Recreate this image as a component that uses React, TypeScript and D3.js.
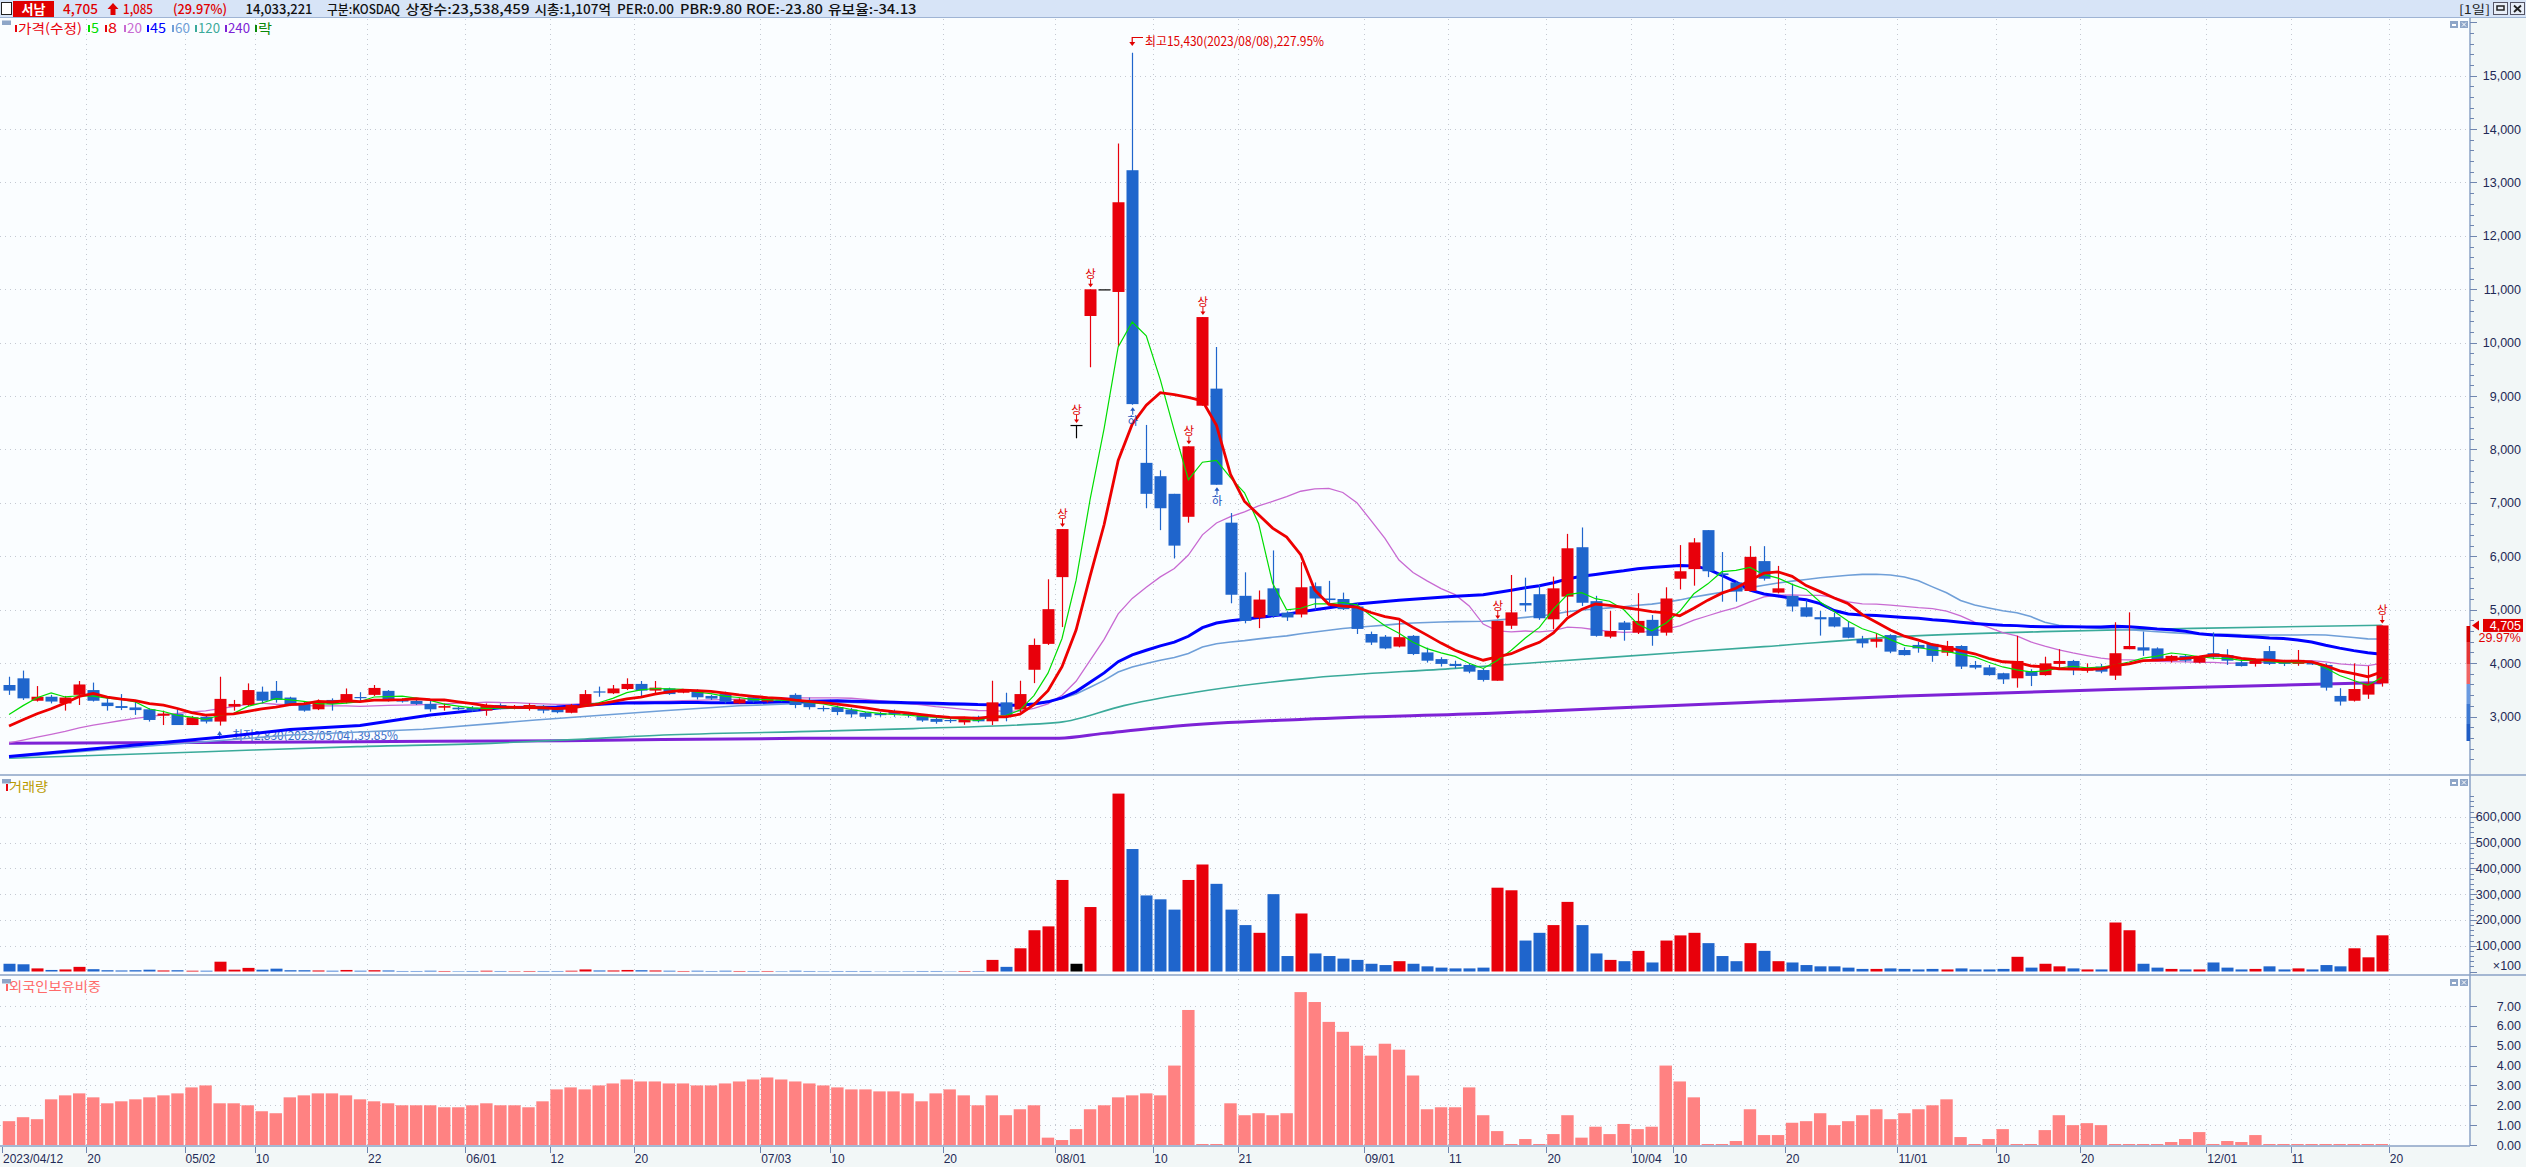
import React from 'react';
import * as d3 from 'd3';

// ---------------- DATA ----------------
const dateLabels: [number, string][] = [
  [0, '2023/04/12'], [6, '20'], [13, '05/02'], [18, '10'], [26, '22'], [33, '06/01'], [39, '12'], [45, '20'],
  [54, '07/03'], [59, '10'], [67, '20'], [75, '08/01'], [82, '10'], [88, '21'], [97, '09/01'], [103, '11'],
  [110, '20'], [116, '10/04'], [119, '10'], [127, '20'], [135, '11/01'], [142, '10'], [148, '20'],
  [157, '12/01'], [163, '11'], [170, '20'],
];

const opens = [
  3590, 3715, 3295, 3370, 3245, 3405, 3495, 3260, 3195, 3170,
  3135, 3015, 3045, 2840, 2995, 2905, 3185, 3215, 3465, 3480,
  3355, 3245, 3135, 3310, 3260, 3365, 3405, 3480, 3320, 3290,
  3235, 3165, 3165, 3165, 3110, 3215, 3165, 3155, 3170, 3155,
  3070, 3195, 3470, 3435, 3515, 3610, 3485, 3525, 3445, 3465,
  3385, 3420, 3245, 3360, 3280, 3320, 3405, 3265, 3160, 3175,
  3130, 3070, 3060, 3085, 3050, 3025, 2955, 2935, 2890, 2995,
  2910, 3265, 3130, 3875, 4360, 5610, 8460, 10500, 11000, 10950,
  13230, 7750, 7500, 7170, 6740, 8820, 9140, 6630, 5260, 4850,
  5400, 4945, 4910, 5440, 5210, 5200, 5060, 4545, 4495, 4310,
  4510, 4200, 4075, 3985, 3965, 3870, 3670, 4700, 5125, 5290,
  4820, 5245, 6170, 5160, 4495, 4760, 4570, 4810, 4570, 5580,
  5760, 6490, 5680, 5510, 5350, 5910, 5320, 5260, 5045, 4860,
  4860, 4670, 4450, 4400, 4525, 4245, 4340, 4360, 4195, 4320,
  3965, 3920, 3810, 3715, 3850, 3775, 3985, 4040, 3860, 3935,
  3765, 4260, 4295, 4275, 4045, 4135, 4010, 4185, 4150, 4015,
  3985, 4225, 4040, 3985, 4015, 3965, 3385, 3295, 3410, 3620,
];
const highs = [
  3745, 3860, 3570, 3405, 3385, 3665, 3635, 3360, 3420, 3280,
  3155, 3110, 3135, 3010, 3030, 3745, 3310, 3620, 3560, 3665,
  3370, 3280, 3320, 3340, 3525, 3455, 3590, 3495, 3340, 3310,
  3310, 3245, 3185, 3195, 3245, 3245, 3215, 3245, 3215, 3170,
  3235, 3495, 3560, 3590, 3715, 3665, 3665, 3540, 3495, 3510,
  3405, 3465, 3340, 3385, 3370, 3340, 3435, 3355, 3205, 3205,
  3160, 3085, 3085, 3130, 3085, 3040, 2980, 2970, 2995, 3015,
  3670, 3445, 3670, 4460, 5570, 6510, 8460, 11000, 11000, 13730,
  15430, 8460, 7610, 7170, 8060, 10480, 9920, 6810, 5700, 5360,
  6110, 4970, 5890, 5510, 5540, 5320, 5130, 4590, 4525, 4840,
  4525, 4290, 4110, 4045, 3995, 3900, 4790, 5650, 5600, 5465,
  5620, 6420, 6540, 5260, 4975, 4790, 5310, 4900, 5420, 6210,
  6340, 6490, 6080, 5530, 6190, 6190, 5820, 5490, 5180, 4975,
  4945, 4775, 4510, 4560, 4540, 4295, 4400, 4370, 4415, 4335,
  4040, 3965, 3820, 4510, 3885, 4120, 4260, 4060, 3995, 3985,
  4765, 4950, 4590, 4295, 4150, 4150, 4120, 4575, 4260, 4070,
  4085, 4320, 4060, 4245, 4025, 3995, 3530, 3995, 3945, 4705,
];
const lows = [
  3405, 3310, 3280, 3245, 3110, 3215, 3280, 3110, 3120, 3030,
  2905, 2840, 2845, 2840, 2870, 2830, 3110, 3195, 3245, 3260,
  3195, 3090, 3120, 3110, 3245, 3280, 3385, 3280, 3260, 3215,
  3090, 3110, 3120, 3090, 3015, 3135, 3135, 3110, 3060, 3060,
  3060, 3185, 3370, 3420, 3495, 3360, 3420, 3405, 3435, 3320,
  3310, 3245, 3235, 3260, 3260, 3280, 3155, 3130, 3095, 3025,
  2980, 2955, 2995, 2995, 2980, 2900, 2865, 2880, 2845, 2890,
  2840, 2910, 3085, 3625, 4340, 4675, 8210, 9540, 11000, 9940,
  8840, 6900, 6490, 5960, 6630, 8820, 7340, 5120, 4745, 4655,
  4850, 4790, 4855, 4995, 5120, 4995, 4545, 4340, 4260, 4295,
  4150, 4010, 3935, 3900, 3810, 3655, 3670, 4640, 4965, 4810,
  4635, 4880, 5070, 4495, 4465, 4420, 4545, 4325, 4515, 5380,
  5450, 5610, 5150, 5150, 5340, 5545, 5305, 4965, 4860, 4515,
  4670, 4465, 4290, 4290, 4185, 4140, 4195, 4025, 4135, 3890,
  3885, 3765, 3610, 3540, 3570, 3765, 3900, 3775, 3820, 3810,
  3685, 4260, 4135, 4045, 4010, 4015, 3995, 4070, 3965, 3935,
  3935, 3965, 3945, 3950, 3965, 3485, 3205, 3280, 3330, 3560,
];
const closes = [
  3485, 3340, 3370, 3280, 3355, 3600, 3295, 3195, 3160, 3120,
  2935, 3055, 2840, 2985, 2905, 3330, 3235, 3495, 3295, 3310,
  3215, 3110, 3280, 3235, 3420, 3355, 3535, 3320, 3280, 3235,
  3135, 3195, 3135, 3110, 3195, 3155, 3195, 3215, 3110, 3080,
  3215, 3420, 3460, 3525, 3610, 3485, 3540, 3420, 3485, 3360,
  3335, 3280, 3320, 3280, 3360, 3295, 3215, 3175, 3140, 3085,
  3040, 2995, 3025, 3040, 3035, 2925, 2900, 2915, 2980, 2910,
  3265, 3025, 3420, 4340, 5010, 6510, 8460, 11000, 11000, 12630,
  8850, 7170, 6900, 6200, 8060, 10480, 7340, 5280, 4790, 5190,
  4880, 4855, 5420, 5210, 5180, 5010, 4640, 4385, 4275, 4485,
  4170, 4045, 3985, 3945, 3840, 3685, 4790, 4950, 5080, 4840,
  5400, 6150, 5130, 4510, 4600, 4620, 4790, 4510, 5210, 5720,
  6260, 5720, 5650, 5340, 5990, 5580, 5400, 5060, 4870, 4820,
  4685, 4475, 4370, 4450, 4215, 4150, 4275, 4135, 4320, 3935,
  3915, 3775, 3695, 4040, 3760, 3995, 4040, 3870, 3890, 3840,
  4185, 4320, 4235, 4070, 4135, 4045, 4110, 4110, 4045, 3945,
  4070, 3985, 3985, 4060, 3975, 3540, 3280, 3515, 3620, 4705,
];
// estimated closes of the 19 sessions before the window (moving-average warm-up)
const priorCloses = [
  2230, 2250, 2260, 2270, 2280, 2290, 2300, 2300, 2310, 2320, 2340, 2354,
  2400, 2480, 2520, 2500, 2626, 2839, 3727,
];
// volume, x100 shares
const volumes = [
  30000, 28000, 12000, 6000, 8000, 18000, 9000, 5000, 4000, 5000,
  7000, 4000, 5000, 3000, 3000, 38000, 7000, 14000, 7000, 11000,
  5000, 5000, 4000, 3000, 6000, 3000, 5000, 4000, 2000, 2000,
  3000, 2000, 1500, 2000, 3000, 2000, 1500, 2000, 2000, 2000,
  3000, 8000, 4000, 4000, 6000, 5000, 4000, 3000, 2000, 3000,
  2000, 3000, 2000, 2000, 2000, 1500, 3000, 2000, 1500, 2000,
  2000, 2000, 1000, 1500, 1500, 2000, 2000, 1000, 2000, 2000,
  45000, 18000, 90000, 160000, 175000, 355000, 30000, 250000, 0, 690000,
  475000, 295000, 280000, 240000, 355000, 415000, 340000, 240000, 180000, 150000,
  300000, 60000, 225000, 70000, 60000, 50000, 45000, 30000, 25000, 40000,
  30000, 20000, 15000, 12000, 12000, 15000, 325000, 315000, 120000, 150000,
  180000, 270000, 180000, 70000, 45000, 40000, 80000, 35000, 120000, 140000,
  150000, 110000, 60000, 40000, 110000, 80000, 40000, 35000, 25000, 20000,
  20000, 15000, 10000, 10000, 12000, 10000, 8000, 10000, 8000, 12000,
  8000, 8000, 10000, 57000, 15000, 30000, 20000, 12000, 8000, 8000,
  190000, 160000, 30000, 15000, 10000, 8000, 8000, 35000, 15000, 8000,
  10000, 20000, 8000, 12000, 8000, 25000, 20000, 90000, 55000, 140332,
];
// foreign ownership ratio, %
const foreign = [
  1.2, 1.4, 1.3, 2.3, 2.5, 2.6, 2.4, 2.1, 2.2, 2.3,
  2.4, 2.5, 2.6, 2.9, 3.0, 2.1, 2.1, 2.0, 1.7, 1.6,
  2.4, 2.5, 2.6, 2.6, 2.5, 2.3, 2.2, 2.1, 2.0, 2.0,
  2.0, 1.9, 1.9, 2.0, 2.1, 2.0, 2.0, 1.9, 2.2, 2.8,
  2.9, 2.8, 3.0, 3.1, 3.3, 3.2, 3.2, 3.1, 3.1, 3.0,
  3.0, 3.1, 3.2, 3.3, 3.4, 3.3, 3.2, 3.1, 3.0, 2.9,
  2.8, 2.8, 2.7, 2.7, 2.6, 2.2, 2.6, 2.8, 2.5, 2.0,
  2.5, 1.5, 1.8, 2.0, 0.37, 0.25, 0.8, 1.8, 2.0, 2.4,
  2.5, 2.6, 2.5, 4.0, 6.8, 0.05, 0.05, 2.1, 1.5, 1.6,
  1.5, 1.6, 7.7, 7.2, 6.2, 5.7, 5.0, 4.5, 5.1, 4.8,
  3.5, 1.8, 1.9, 1.9, 2.9, 1.5, 0.7, 0.05, 0.3, 0.05,
  0.55, 1.5, 0.37, 0.92, 0.55, 1.06, 0.8, 0.92, 4.0, 3.2,
  2.4, 0.05, 0.05, 0.2, 1.8, 0.5, 0.5, 1.12, 1.2, 1.6,
  1.0, 1.2, 1.5, 1.8, 1.3, 1.6, 1.8, 2.0, 2.3, 0.4,
  0.05, 0.3, 0.8, 0.05, 0.05, 0.75, 1.5, 1.0, 1.1, 1.0,
  0.05, 0.05, 0.05, 0.05, 0.15, 0.3, 0.65, 0.05, 0.2, 0.15,
  0.5, 0.05, 0.05, 0.05, 0.05, 0.05, 0.05, 0.05, 0.05, 0.05,
];
// moving averages (session index, price)
const ma45Early: [number, number][] = [[0, 2250], [10, 2490], [15, 2610], [20, 2755], [25, 2830], [30, 3030], [35, 3165], [39, 3180], [43, 3245]];
const ma60Early: [number, number][] = [[0, 2235], [10, 2447], [20, 2653], [29.5, 2760], [37.5, 2935], [46.6, 3109], [52, 3200], [58, 3262]];
const ma120Read: [number, number][] = [[0, 2217], [14, 2341], [24.8, 2435], [34.3, 2497], [41, 2578], [46.6, 2653], [56.3, 2716], [64.4, 2773], [74.8, 2890], [79.4, 3204], [85.4, 3490], [92.3, 3710], [103, 3902], [114, 4108], [125, 4308], [135, 4500], [144.8, 4589], [155.6, 4651], [169, 4710]];
const ma240Read: [number, number][] = [[0, 2497], [24.8, 2529], [39.6, 2547], [56.3, 2591], [74.8, 2594], [78, 2684], [83, 2818], [92.3, 2950], [105.6, 3060], [119.5, 3216], [135, 3384], [150.4, 3509], [169, 3634]];

const limitUp = [75, 76, 77, 84, 85, 106, 169];
const limitDown = [80, 86];
const priceTicks = [3000, 4000, 5000, 6000, 7000, 8000, 9000, 10000, 11000, 12000, 13000, 14000, 15000];
const volTicks = [100000, 200000, 300000, 400000, 500000, 600000];
const forTicks = [0, 1, 2, 3, 4, 5, 6, 7];

// ---------------- STYLE ----------------
const UP = '#e8000b';
const DN = '#1f65cc';
const AXT = '#1f2a56';
const BORDER = '#8aa2c6';
const GRID = '#c4c9d2';
const KR = "'Noto Sans CJK KR', 'Noto Sans', sans-serif";
const LAT = "'Liberation Sans', Arial, sans-serif";

function sma(all: number[], off: number, n: number, from: number): [number, number][] {
  const out: [number, number][] = [];
  for (let i = from; i < closes.length; i++) {
    const s = off + i - n + 1;
    if (s < 0) continue;
    out.push([i, d3.mean(all.slice(s, off + i + 1)) as number]);
  }
  return out;
}

export default function App() {
  const xc = d3.scaleLinear().domain([0, 1]).range([9.02, 23.06]);
  const slotL = (i: number) => xc(i) - 7.02;
  const yP = d3.scaleLinear().domain([3000, 15000]).range([716.5, 75.7]);
  const yV = d3.scaleLinear().domain([0, 600000]).range([971.5, 816.8]);
  const yF = d3.scaleLinear().domain([0, 7]).range([1145, 1006]);

  const all = priorCloses.concat(closes);
  const off = priorCloses.length;
  const ma5 = sma(all, off, 5, 0);
  const ma8 = sma(all, off, 8, 0);
  const ma20 = sma(all, off, 20, 0);
  const ma45 = ma45Early.concat(sma(closes, 0, 45, 44));
  const ma60 = ma60Early.concat(sma(closes, 0, 60, 59));

  const line = d3.line<[number, number]>().x(d => xc(d[0])).y(d => yP(d[1]));
  const smooth = d3.line<[number, number]>().x(d => xc(d[0])).y(d => yP(d[1])).curve(d3.curveMonotoneX);
  const col = (i: number) => closes[i] > opens[i] ? UP : closes[i] < opens[i] ? DN : '#000';

  const T = (p: any) => (
    <text key={p.k} x={p.x} y={p.y} fill={p.fill || AXT} fontSize={p.size || 12} fontFamily={p.font || KR}
      textAnchor={p.anchor || 'start'} fontWeight={p.weight || 'normal'}
      textLength={p.len} lengthAdjust={p.len ? 'spacingAndGlyphs' : undefined}>{p.t}</text>
  );

  const legend: [string, string, number, number][] = [
    ['가격(수정)', '#e8000b', 18, 64], ['5', '#00dd00', 91, 8], ['8', '#e8000b', 108, 9], ['20', '#c86ad2', 127, 15],
    ['45', '#0000ff', 150, 16], ['60', '#6f9fd8', 175, 15], ['120', '#3aaa9a', 198, 22], ['240', '#7d22d6', 228, 22], ['락', '#0a8a0a', 258, 14],
  ];

  const bandSegs: [number, number, string][] = [
    [626, 642, '#d40000'], [642, 664, '#e43434'], [664, 684, '#ef6464'], [684, 704, '#6a9ae0'], [704, 724, '#3c78d2'], [724, 741, '#1f5cc4'],
  ];

  const panelBtns = (y: number) => (
    <g>
      <rect x={2450} y={y} width={8} height={7} fill="#8ea6c8" />
      <rect x={2452} y={y + 3} width={4} height={2} fill="#fff" />
      <rect x={2460} y={y} width={8} height={7} fill="#8ea6c8" />
      <path d={`M${2462},${y + 1.5} L${2466},${y + 5.5} M${2466},${y + 1.5} L${2462},${y + 5.5}`} stroke="#fff" strokeWidth={1} />
    </g>
  );

  return (
    <div style={{ position: 'absolute', left: 0, top: 0 }}>
      <svg width={2526} height={1167} viewBox="0 0 2526 1167" style={{ display: 'block', background: '#fff' }}>
        {/* backgrounds */}
        <rect x={0} y={0} width={2526} height={1167} fill="#f2f7f7" />
        <rect x={0} y={18} width={2470} height={1128} fill="#fafdff" />
        <rect x={0} y={0} width={2526} height={18} fill="#d7e4f7" />
        <line x1={0} x2={2526} y1={17.5} y2={17.5} stroke="#9fb4d4" />

        {/* header */}
        <rect x={1.5} y={2.5} width={10} height={12} fill="#fff" stroke="#222" />
        <rect x={13} y={1} width={41} height={16} fill="#e00000" />
        {T({ x: 33.5, y: 14, t: '서남', fill: '#fff', size: 13, anchor: 'middle', weight: 'bold' })}
        {T({ x: 63, y: 14, t: '4,705', fill: '#e00000', size: 13, len: 35, weight: 500 })}
        <path d="M113,3 L118.5,9 L115.5,9 L115.5,15 L110.5,15 L110.5,9 L107.5,9 Z" fill="#e00000" />
        {T({ x: 123, y: 14, t: '1,085', fill: '#e00000', size: 13, len: 30, weight: 500 })}
        {T({ x: 173, y: 14, t: '(29.97%)', fill: '#e00000', size: 13, len: 54, weight: 500 })}
        {T({ x: 245.5, y: 14, t: '14,033,221', fill: '#111', size: 13, len: 67, weight: 500 })}
        {T({ x: 327, y: 14, t: '구분:KOSDAQ', fill: '#111', size: 13, len: 73, weight: 500 })}
        {T({ x: 405.6, y: 14, t: '상장수:23,538,459', fill: '#111', size: 13, len: 124, weight: 500 })}
        {T({ x: 534.4, y: 14, t: '시총:1,107억', fill: '#111', size: 13, len: 76.6, weight: 500 })}
        {T({ x: 617, y: 14, t: 'PER:0.00', fill: '#111', size: 13, len: 57, weight: 500 })}
        {T({ x: 680, y: 14, t: 'PBR:9.80', fill: '#111', size: 13, len: 62, weight: 500 })}
        {T({ x: 746, y: 14, t: 'ROE:-23.80', fill: '#111', size: 13, len: 77, weight: 500 })}
        {T({ x: 828, y: 14, t: '유보율:-34.13', fill: '#111', size: 13, len: 88.5, weight: 500 })}
        {T({ x: 2459, y: 13.5, t: '[1일]', fill: '#222', size: 12, len: 31 })}
        <rect x={2493.5} y={2.5} width={14} height={12} fill="#e8eef8" stroke="#556" />
        <rect x={2497} y={6} width={7} height={4} fill="none" stroke="#222" strokeWidth={1.5} />
        <rect x={2510.5} y={2.5} width={14} height={12} fill="#e8eef8" stroke="#556" />
        <path d="M2514,5.5 L2521,12 M2521,5.5 L2514,12" stroke="#222" strokeWidth={1.8} />

        {/* grid */}
        <g stroke={GRID} strokeDasharray="1 4" strokeWidth={1}>
          {priceTicks.map(p => <line key={'gp' + p} x1={0} x2={2470} y1={Math.round(yP(p)) + 0.5} y2={Math.round(yP(p)) + 0.5} />)}
          {volTicks.map(v => <line key={'gv' + v} x1={0} x2={2470} y1={Math.round(yV(v)) + 0.5} y2={Math.round(yV(v)) + 0.5} />)}
          {forTicks.slice(1).map(v => <line key={'gf' + v} x1={0} x2={2470} y1={Math.round(yF(v)) + 0.5} y2={Math.round(yF(v)) + 0.5} />)}
          {dateLabels.slice(1).map(([i]) => <line key={'gx' + i} x1={Math.round(slotL(i)) + 0.5} x2={Math.round(slotL(i)) + 0.5} y1={19} y2={1146} />)}
        </g>

        {/* legends */}
        <rect x={2} y={20.5} width={9} height={4.5} fill="#8ea6c8" />
        {legend.map(([t, c, x, len]) => (
          <g key={t}>
            <rect x={x - 3} y={25} width={2} height={7} fill={c} />
            {T({ x, y: 32.5, t, fill: c, size: 13, len })}
          </g>
        ))}
        <rect x={2} y={779} width={9} height={4.5} fill="#8ea6c8" />
        <rect x={6} y={784} width={2} height={7} fill="#e8000b" />
        {T({ x: 9, y: 791, t: '거래량', fill: '#b99a00', size: 13, len: 39 })}
        <rect x={2} y={979} width={9} height={4.5} fill="#8ea6c8" />
        <rect x={6} y={984} width={2} height={7} fill="#ff6060" />
        {T({ x: 9, y: 991, t: '외국인보유비중', fill: '#ff6a6a', size: 13, len: 92 })}
        {panelBtns(21)}
        {panelBtns(779)}
        {panelBtns(979)}

        {/* low annotation */}
        <path d={`M${xc(15)},${731} L${xc(15) - 2.5},${735} L${xc(15) + 2.5},${735} Z`} fill="#2a62c6" />
        <line x1={xc(15)} x2={xc(15)} y1={734} y2={739} stroke="#2a62c6" />
        {T({ x: 232, y: 739.5, t: '최저2,830(2023/05/04),39.85%', fill: '#3a6cc8', size: 12, len: 166 })}

        {/* moving averages */}
        <path d={smooth(ma240Read) || ''} fill="none" stroke="#7d22d6" strokeWidth={3} />
        <path d={smooth(ma120Read) || ''} fill="none" stroke="#3aaa9a" strokeWidth={1.6} />
        <path d={line(ma60) || ''} fill="none" stroke="#6f9fd8" strokeWidth={1.6} />
        <path d={line(ma20) || ''} fill="none" stroke="#c86ad2" strokeWidth={1.3} />
        <path d={line(ma45) || ''} fill="none" stroke="#0000ff" strokeWidth={3} />

        {/* candles */}
        {closes.map((c, i) => {
          const o = opens[i];
          const x = xc(i);
          const top = yP(Math.max(o, c));
          const h = Math.max(1.2, Math.abs(yP(o) - yP(c)));
          const k = col(i);
          return (
            <g key={'c' + i}>
              <line x1={Math.round(x) + 0.5} x2={Math.round(x) + 0.5} y1={yP(highs[i])} y2={yP(lows[i])} stroke={k} strokeWidth={1.2} />
              <rect x={Math.round(x) - 5.5} y={top} width={12} height={h} fill={k} />
            </g>
          );
        })}
        <path d={line(ma5) || ''} fill="none" stroke="#00dd00" strokeWidth={1.2} />
        <path d={line(ma8) || ''} fill="none" stroke="#ee0000" strokeWidth={2.8} />

        {/* limit markers */}
        {limitUp.map(i => (
          <g key={'u' + i}>
            {T({ x: xc(i) + 0.5, y: yP(highs[i]) - 11, t: '상', fill: '#e00000', size: 11.5, anchor: 'middle' })}
            <line x1={xc(i) + 0.5} x2={xc(i) + 0.5} y1={yP(highs[i]) - 10} y2={yP(highs[i]) - 4} stroke="#e00000" />
            <path d={`M${xc(i) - 2},${yP(highs[i]) - 5.5} L${xc(i) + 3},${yP(highs[i]) - 5.5} L${xc(i) + 0.5},${yP(highs[i]) - 2} Z`} fill="#e00000" />
          </g>
        ))}
        {limitDown.map(i => (
          <g key={'d' + i}>
            <path d={`M${xc(i) - 2},${yP(lows[i]) + 6} L${xc(i) + 3},${yP(lows[i]) + 6} L${xc(i) + 0.5},${yP(lows[i]) + 2.5} Z`} fill="#1f55c0" />
            <line x1={xc(i) + 0.5} x2={xc(i) + 0.5} y1={yP(lows[i]) + 5} y2={yP(lows[i]) + 10} stroke="#1f55c0" />
            {T({ x: xc(i) + 0.5, y: yP(lows[i]) + 20, t: '하', fill: '#1f55c0', size: 11.5, anchor: 'middle' })}
          </g>
        ))}

        {/* high annotation */}
        <path d={`M1143,37.5 H${xc(80)} V43`} fill="none" stroke="#e00000" strokeWidth={1.2} />
        <path d={`M${xc(80) - 3},42 L${xc(80) + 3},42 L${xc(80)},46 Z`} fill="#e00000" />
        {T({ x: 1145, y: 46, t: '최고15,430(2023/08/08),227.95%', fill: '#e00000', size: 12.5, len: 179 })}

        {/* volume bars */}
        {volumes.map((v, i) => v > 0 && (
          <rect key={'v' + i} x={Math.round(xc(i)) - 5.5} y={yV(v)} width={12} height={yV(0) - yV(v)} fill={col(i)} />
        ))}
        {/* foreign bars */}
        {foreign.map((v, i) => (
          <rect key={'f' + i} x={slotL(i) + 0.8} y={yF(v)} width={12.4} height={yF(0) - yF(v)} fill="#ff8282" />
        ))}

        {/* borders */}
        <g stroke={BORDER} strokeWidth={1.5}>
          <line x1={0} x2={2526} y1={775} y2={775} />
          <line x1={0} x2={2526} y1={975} y2={975} />
          <line x1={0} x2={2470} y1={1146} y2={1146} />
          <line x1={2470} x2={2470} y1={18} y2={1146} />
        </g>

        {/* right axes */}
        <g stroke="#6f86b0" strokeWidth={1}>
          {d3.range(2200, 16001, 200).map(p => (
            <line key={'tp' + p} x1={2470} x2={p % 1000 === 0 ? 2477 : 2474} y1={Math.round(yP(p)) + 0.5} y2={Math.round(yP(p)) + 0.5} />
          ))}
          {d3.range(0, 680001, 20000).map(v => (
            <line key={'tv' + v} x1={2470} x2={v % 100000 === 0 ? 2477 : 2474} y1={Math.round(yV(v)) + 0.5} y2={Math.round(yV(v)) + 0.5} />
          ))}
          {forTicks.map(v => <line key={'tf' + v} x1={2470} x2={2477} y1={Math.round(yF(v)) + 0.5} y2={Math.round(yF(v)) + 0.5} />)}
        </g>
        {priceTicks.map(p => T({ k: 'lp' + p, x: 2521, y: yP(p) + 4.5, t: d3.format(',')(p), anchor: 'end', font: LAT, size: 12.5 }))}
        {volTicks.map(v => T({ k: 'lv' + v, x: 2521, y: yV(v) + 4.5, t: d3.format(',')(v), anchor: 'end', font: LAT, size: 12.5 }))}
        {T({ x: 2521, y: 970, t: '×100', anchor: 'end', font: LAT, size: 12.5 })}
        {forTicks.map(v => T({ k: 'lf' + v, x: 2521, y: yF(v) + 4.5, t: v.toFixed(2), anchor: 'end', font: LAT, size: 12.5 }))}

        {/* price band + current price tag */}
        {bandSegs.map(([a, b, c]) => <rect key={'b' + a} x={2466.5} y={a} width={3.5} height={b - a} fill={c} />)}
        <path d={`M2472,${yP(4705)} L2479,${yP(4705) - 5} L2479,${yP(4705) + 5} Z`} fill="#e00000" />
        <rect x={2483} y={yP(4705) - 6.5} width={40} height={13} fill="#e00000" />
        {T({ x: 2521, y: yP(4705) + 4.5, t: '4,705', fill: '#fff', anchor: 'end', font: LAT, size: 12.5 })}
        {T({ x: 2521, y: yP(4705) + 17, t: '29.97%', fill: '#e00000', anchor: 'end', font: LAT, size: 12.5 })}

        {/* date axis */}
        {dateLabels.map(([i, t]) => (
          <g key={'dl' + i}>
            <line x1={Math.round(slotL(i)) + 0.5} x2={Math.round(slotL(i)) + 0.5} y1={1147} y2={1153} stroke="#6f86b0" />
            {T({ x: slotL(i) + 1, y: 1163, t, font: LAT, size: 12 })}
          </g>
        ))}
      </svg>
    </div>
  );
}
